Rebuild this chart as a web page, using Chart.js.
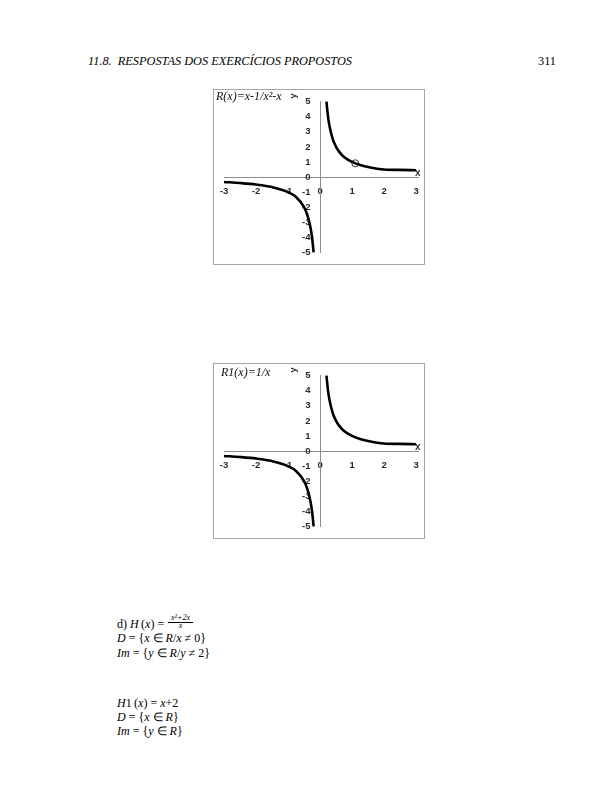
<!DOCTYPE html>
<html>
<head>
<meta charset="utf-8">
<script src="https://cdn.jsdelivr.net/npm/chart.js@4/dist/chart.umd.min.js"></script>
<style>
  html, body { margin: 0; padding: 0; background: #fff; }
  body { width: 612px; height: 792px; position: relative; overflow: hidden; font-family: "Liberation Serif", "Times New Roman", serif; color: #000; }
  .abs { position: absolute; white-space: nowrap; }
  .hdr { font-style: italic; font-size: 12.3px; }
  .box { position: absolute; width: 212px; height: 176px; border: 1px solid #a6a6a6; box-sizing: border-box; }
  .box canvas { position: absolute; left: 0; top: 0; }
  .ttl { font-family: "Liberation Serif", serif; font-style: italic; font-size: 12px; color: #111; }
  .xt { font-family: "Liberation Sans", sans-serif; font-weight: bold; font-size: 10px; color: #333; }
  .yt { font-family: "Liberation Sans", sans-serif; font-weight: bold; font-size: 9px; color: #222; transform: rotate(-90deg); transform-origin: center; }
  .math { font-size: 12px; line-height: 14px; }
  .math i { font-style: italic; }
  .fr { font-size: 8px; line-height: 8px; font-style: italic; text-align: center; width: 25px; }
</style>
</head>
<body>
<div class="abs hdr" style="left:88px; top:54px;">11.8.&nbsp; RESPOSTAS DOS EXERCÍCIOS PROPOSTOS</div>
<div class="abs" style="left:538px; top:54px; font-size:12.3px;">311</div>

<div class="box" style="left:213px; top:89px;"><canvas id="c1" width="210" height="174"></canvas></div>
<div class="abs ttl" style="left:216px; top:89px;">R(x)=x-1/x²-x</div>
<div class="abs yt" style="left:290px; top:91px;">y</div>
<div class="abs xt" style="left:415px; top:167px;">x</div>

<div class="box" style="left:213px; top:363px;"><canvas id="c2" width="210" height="174"></canvas></div>
<div class="abs ttl" style="left:221px; top:365px;">R1(x)=1/x</div>
<div class="abs yt" style="left:290px; top:365px;">y</div>
<div class="abs xt" style="left:415px; top:441px;">x</div>

<div class="abs math" style="left:117px; top:617px;">d) <i>H</i>&thinsp;(<i>x</i>) =</div>
<div class="abs fr" style="left:168px; top:614px; border-bottom:0.7px solid #000;">x²+2x</div>
<div class="abs fr" style="left:168px; top:622px;">x</div>
<div class="abs math" style="left:117px; top:631px;"><i>D</i> = {<i>x</i> ∈ <i>R</i>/<i>x</i> ≠ 0}</div>
<div class="abs math" style="left:117px; top:646px;"><i>Im</i> = {<i>y</i> ∈ <i>R</i>/<i>y</i> ≠ 2}</div>

<div class="abs math" style="left:117px; top:696px;"><i>H</i>1&thinsp;(<i>x</i>) = <i>x</i>+2</div>
<div class="abs math" style="left:117px; top:710px;"><i>D</i> = {<i>x</i> ∈ <i>R</i>}</div>
<div class="abs math" style="left:117px; top:724px;"><i>Im</i> = {<i>y</i> ∈ <i>R</i>}</div>

<script>
// Tick labels
const xTicks = [-3, -2, -1, 0, 1, 2, 3];
const yTicks = [-5, -4, -3, -2, -1, 0, 1, 2, 3, 4, 5];

// Chart 1: R(x) = (x-1)/(x^2-x)
const rLeftX  = [-3, -2.5, -2, -1.5, -1, -0.75, -0.5, -0.4, -0.3, -0.25, -0.2];
const rLeftY  = [-0.33, -0.4, -0.5, -0.67, -1, -1.33, -2, -2.5, -3.33, -4, -5];
const rRightX = [0.2, 0.25, 0.3, 0.4, 0.5, 0.6, 0.75, 1, 1.25, 1.5, 2, 2.5, 3];
const rRightY = [5, 4, 3.33, 2.5, 2, 1.67, 1.33, 1, 0.8, 0.67, 0.5, 0.47, 0.45];
const holeX = [1.1];
const holeY = [0.91];

// Chart 2: R1(x) = 1/x
const r1LeftX  = [-3, -2.5, -2, -1.5, -1, -0.75, -0.5, -0.4, -0.3, -0.25, -0.2];
const r1LeftY  = [-0.33, -0.4, -0.5, -0.67, -1, -1.33, -2, -2.5, -3.33, -4, -5];
const r1RightX = [0.2, 0.25, 0.3, 0.4, 0.5, 0.6, 0.75, 1, 1.25, 1.5, 2, 2.5, 3];
const r1RightY = [5, 4, 3.33, 2.5, 2, 1.67, 1.33, 1, 0.8, 0.67, 0.5, 0.47, 0.45];

function pts(xs, ys) { return xs.map((x, i) => ({ x: x, y: ys[i] })); }

function curve(xs, ys) {
  return {
    data: pts(xs, ys), showLine: true, borderColor: '#000', borderWidth: 2.6,
    pointRadius: 0, tension: 0.4, cubicInterpolationMode: 'monotone', clip: 6, fill: false
  };
}

const tickFont = { family: 'Liberation Sans', size: 9.5, weight: 'bold' };

function makeChart(id, datasets) {
  return new Chart(document.getElementById(id), {
    type: 'scatter',
    data: { datasets: datasets },
    options: {
      responsive: false, animation: false, devicePixelRatio: 1,
      layout: { padding: { left: 10, right: 6, top: 6, bottom: 6 } },
      plugins: { legend: { display: false }, tooltip: { enabled: false }, title: { display: false } },
      scales: {
        x: {
          type: 'linear', min: -3, max: 3.06, position: { y: 0 },
          afterBuildTicks: s => { s.ticks = xTicks.map(v => ({ value: v })); },
          grid: { display: false, drawTicks: true, tickLength: 5 },
          border: { display: true, color: '#8c8c8c', width: 1 },
          ticks: { padding: 4, color: '#2a2a2a', font: tickFont, maxRotation: 0, autoSkip: false }
        },
        y: {
          type: 'linear', min: -5, max: 5, position: { x: 0 },
          afterBuildTicks: s => { s.ticks = yTicks.map(v => ({ value: v })); },
          grid: { display: false, drawTicks: true, tickLength: 4 },
          border: { display: true, color: '#8c8c8c', width: 1 },
          ticks: { padding: 6, color: '#2a2a2a', font: tickFont, autoSkip: false,
                   callback: v => String(v) + '\u2002\u2002' }
        }
      }
    }
  });
}

makeChart('c1', [
  curve(rLeftX, rLeftY),
  curve(rRightX, rRightY),
  { data: pts(holeX, holeY), pointRadius: 3.5, pointBackgroundColor: '#fff', pointBorderColor: '#333', pointBorderWidth: 1, showLine: false }
]);
makeChart('c2', [
  curve(r1LeftX, r1LeftY),
  curve(r1RightX, r1RightY)
]);
</script>
</body>
</html>
